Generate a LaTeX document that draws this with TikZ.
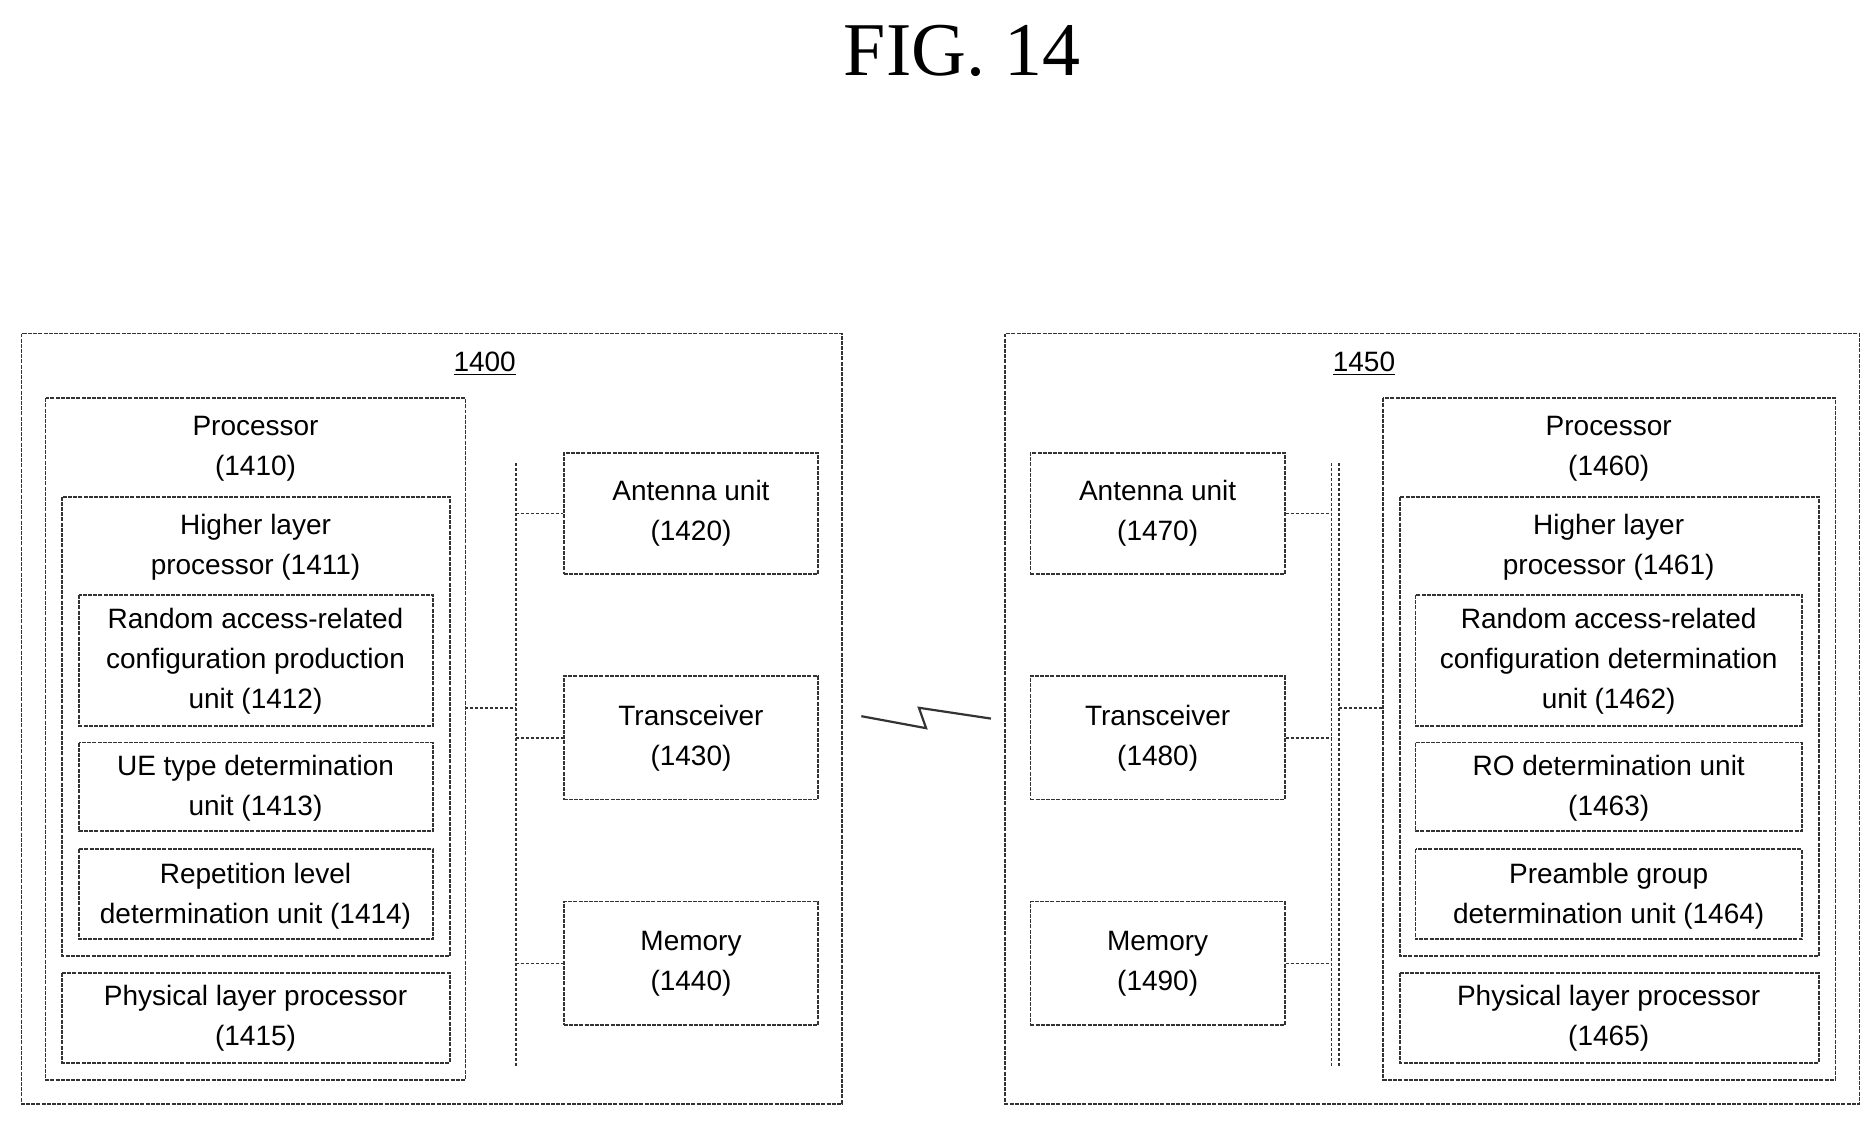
\documentclass[tikz,border=0pt]{standalone}
\usepackage{fontspec}
\setmainfont{Liberation Sans}
\newfontfamily\titlefont{Liberation Serif}
\begin{document}
\begin{tikzpicture}[x=0.6pt,y=-0.6pt,
  bx/.style={draw=black!80,line width=0.9pt,densely dashed, dash pattern=on 2pt off 0.6pt},
  tx/.style={font=\fontsize{14}{20}\selectfont,align=center,inner sep=0pt},
  ln/.style={draw=black!80,line width=0.8pt,dash pattern=on 1.5pt off 1pt}]
\useasboundingbox (0,0) rectangle (1563,936);
\node[font=\titlefont\fontsize{38}{40}\selectfont] (title) at (802,42) {FIG. 14};
% left device
\draw[bx] (18,278) rectangle (702,920);
\node[tx] (l1400) at (404,303) {\underline{1400}};
\draw[bx] (38,332) rectangle (388,900);
\coordinate (lproc) at (388,590);
\node[tx] (l1410) at (213,374) {Processor\\(1410)};
\draw[bx] (52,414) rectangle (375,797);
\node[tx] (l1411) at (213,456) {Higher layer\\processor (1411)};
\draw[bx] (66,496) rectangle (361,605);
\node[tx] (l1412) at (213,551) {Random access-related\\configuration production\\unit (1412)};
\draw[bx] (66,619) rectangle (361,693);
\node[tx] (l1413) at (213,657) {UE type determination\\unit (1413)};
\draw[bx] (66,708) rectangle (361,783);
\node[tx] (l1414) at (213,747) {Repetition level\\determination unit (1414)};
\draw[bx] (52,811) rectangle (375,886);
\node[tx] (l1415) at (213,849) {Physical layer processor\\(1415)};
\node[bx,tx,minimum width=212*0.6pt,minimum height=101*0.6pt] (ant1) at (576,428) {Antenna unit\\(1420)};
\node[bx,tx,minimum width=212*0.6pt,minimum height=103*0.6pt] (trx1) at (576,615) {Transceiver\\(1430)};
\node[bx,tx,minimum width=212*0.6pt,minimum height=103*0.6pt] (mem1) at (576,803) {Memory\\(1440)};
\coordinate (b1t) at (430,386); \coordinate (b1b) at (430,890);
\draw[ln] (b1t) -- (b1b);
\draw[ln] (lproc) -- (430,590);
\draw[ln] (430,428) -- (ant1.west);
\draw[ln] (430,615) -- (trx1.west);
\draw[ln] (430,803) -- (mem1.west);
% lightning
\coordinate (z1) at (718,597); \coordinate (z2) at (826,599);
\draw[line width=1.1pt,black!80,line join=miter] (z1) -- (772,607) -- (766,590) -- (z2);
% right device
\draw[bx] (838,278) rectangle (1550,920);
\node[tx] (l1450) at (1137,303) {\underline{1450}};
\node[bx,tx,minimum width=212*0.6pt,minimum height=101*0.6pt] (ant2) at (965,428) {Antenna unit\\(1470)};
\node[bx,tx,minimum width=212*0.6pt,minimum height=103*0.6pt] (trx2) at (965,615) {Transceiver\\(1480)};
\node[bx,tx,minimum width=212*0.6pt,minimum height=103*0.6pt] (mem2) at (965,803) {Memory\\(1490)};
\draw[bx] (1153,332) rectangle (1530,900);
\coordinate (rproc) at (1153,590);
\node[tx] (l1460) at (1341,374) {Processor\\(1460)};
\draw[bx] (1167,414) rectangle (1516,797);
\node[tx] (l1461) at (1341,456) {Higher layer\\processor (1461)};
\draw[bx] (1180,496) rectangle (1502,605);
\node[tx] (l1462) at (1341,551) {Random access-related\\configuration determination\\unit (1462)};
\draw[bx] (1180,619) rectangle (1502,693);
\node[tx] (l1463) at (1341,657) {RO determination unit\\(1463)};
\draw[bx] (1180,708) rectangle (1502,783);
\node[tx] (l1464) at (1341,747) {Preamble group\\determination unit (1464)};
\draw[bx] (1167,811) rectangle (1516,886);
\node[tx] (l1465) at (1341,849) {Physical layer processor\\(1465)};
\coordinate (b2t) at (1110,386); \coordinate (b2b) at (1110,890);
\draw[ln] (b2t) -- (b2b);
\draw[ln] ([xshift=3.6pt]b2t) -- ([xshift=3.6pt]b2b);
\draw[ln] (1116,590) -- (rproc);
\draw[ln] (ant2.east) -- (1110,428);
\draw[ln] (trx2.east) -- (1110,615);
\draw[ln] (mem2.east) -- (1110,803);
\end{tikzpicture}
\end{document}
